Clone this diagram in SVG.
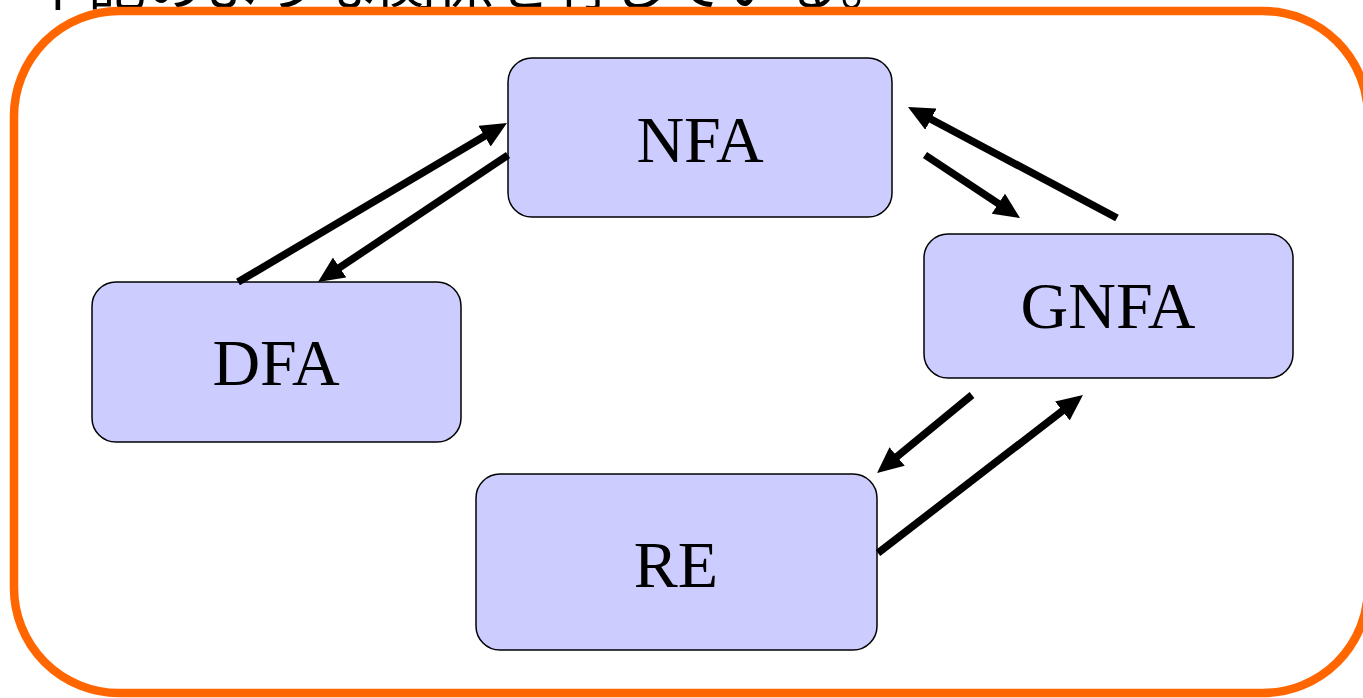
<svg xmlns="http://www.w3.org/2000/svg" width="1363" height="698" viewBox="0 0 1363 698">
<style>
.box{fill:#CCCCFF;stroke:#000;stroke-width:1.5}
.lbl{font-family:"Liberation Serif","Times New Roman",serif;font-size:66px;fill:#000;text-anchor:middle}
.arr{stroke:#000;stroke-width:7.5;fill:none;marker-end:url(#ah)}
.title{font-family:"Noto Sans CJK JP","Noto Sans",sans-serif;font-size:58px;fill:#000}
</style>
<defs>
<marker id="ah" viewBox="0 0 26 24" refX="10" refY="12" markerWidth="26" markerHeight="24" markerUnits="userSpaceOnUse" orient="auto">
<path d="M0,0 L26,12 L0,24 z" fill="#000"/>
</marker>
</defs>
<rect width="1363" height="698" fill="#fff"/>
<text class="title" x="30" y="5">下記のような関係を有している。</text>
<rect x="14" y="11" width="1354" height="682" rx="105" ry="105" fill="none" stroke="#FF6600" stroke-width="8.5"/>
<g id="NFA">
<rect class="box" x="508" y="58" width="384" height="159" rx="24" ry="24"/>
<text class="lbl" x="700" y="162">NFA</text>
</g>
<g id="DFA">
<rect class="box" x="92" y="282" width="369" height="160" rx="24" ry="24"/>
<text class="lbl" x="276" y="385">DFA</text>
</g>
<g id="GNFA">
<rect class="box" x="924" y="234" width="369" height="144" rx="24" ry="24"/>
<text class="lbl" x="1108" y="328">GNFA</text>
</g>
<g id="RE">
<rect class="box" x="476" y="474" width="401" height="176" rx="24" ry="24"/>
<text class="lbl" x="676" y="587">RE</text>
</g>
<g id="connectors">
<line class="arr" x1="238" y1="282" x2="493.2" y2="131.1"/>
<line class="arr" x1="508" y1="155" x2="331.3" y2="273.1"/>
<line class="arr" x1="1117" y1="218" x2="922.1" y2="114.5"/>
<line class="arr" x1="925" y1="155" x2="1006.7" y2="209.2"/>
<line class="arr" x1="972" y1="395" x2="889.4" y2="462.8"/>
<line class="arr" x1="878" y1="553" x2="1070.3" y2="404.8"/>
</g>
</svg>
